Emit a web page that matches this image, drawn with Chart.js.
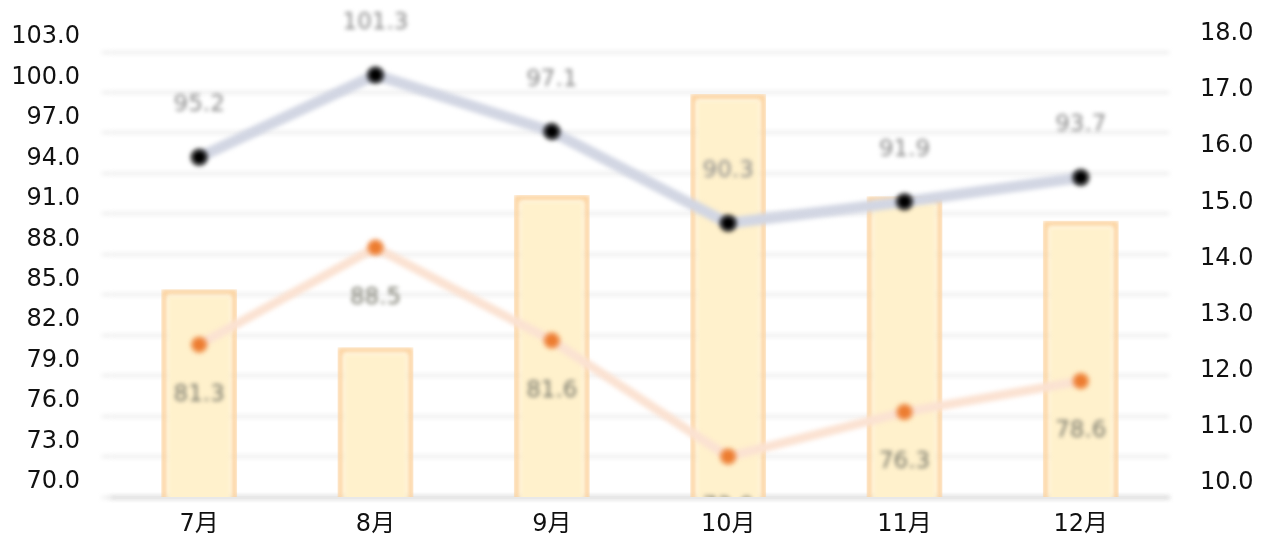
<!DOCTYPE html>
<html>
<head>
<meta charset="utf-8">
<script src="https://cdn.jsdelivr.net/npm/chart.js@4/dist/chart.umd.min.js"></script>
<style>
    html, body { margin: 0; padding: 0; background: #fff; }
    #wrap { width: 1267px; height: 540px; }
</style>
</head>
<body>
<div id="wrap"><canvas id="chart" width="1267" height="540"></canvas></div>
<script>
// Categories and series
const months = ['7月', '8月', '9月', '10月', '11月', '12月'];
const barValues = [13.7, 12.67, 15.38, 17.18, 15.36, 14.92];      // right axis
const grayLineValues = [95.2, 101.3, 97.1, 90.3, 91.9, 93.7];     // left axis
const orangeLineValues = [81.3, 88.5, 81.6, 73.0, 76.3, 78.6];    // left axis
const leftTicks = [70, 73, 76, 79, 82, 85, 88, 91, 94, 97, 100, 103];
const rightTicks = [10, 11, 12, 13, 14, 15, 16, 17, 18];

const FONT = '"DejaVu Sans", "Noto Sans CJK JP", sans-serif';

// Value labels next to line points
const pointLabels = {
    id: 'pointLabels',
    afterDatasetsDraw(chart) {
        const ctx = chart.ctx;
        ctx.save();
        ctx.beginPath();
        ctx.rect(0, 0, chart.width, chart.chartArea.bottom);
        ctx.clip();
        ctx.font = '23px ' + FONT;
        ctx.textAlign = 'center';
        ctx.textBaseline = 'middle';
        const specs = [
            { index: 1, dy: -52, color: '#888888' },
            { index: 2, dy: 50, color: '#77776a' }
        ];
        specs.forEach(spec => {
            const values = chart.data.datasets[spec.index].data;
            chart.getDatasetMeta(spec.index).data.forEach((pt, i) => {
                ctx.fillStyle = spec.color;
                ctx.fillText(values[i].toFixed(1), pt.x, pt.y + spec.dy);
            });
        });
        ctx.restore();
    }
};

// The plot body of the reference is soft; tick labels stay sharp (drawn later, z: 1)
const softFocus = {
    id: 'softFocus',
    beforeDraw(chart) {
        chart.ctx.save();
        chart.ctx.filter = 'blur(2.2px)';
    },
    afterDatasetsDraw(chart) {
        chart.ctx.restore();
    }
};

new Chart(document.getElementById('chart'), {
    data: {
        labels: months,
        datasets: [
            {
                type: 'bar',
                data: barValues,
                yAxisID: 'yR',
                backgroundColor: '#fff1cc',
                borderColor: '#fcd3a0',
                borderWidth: 6,
                barPercentage: 0.43,
                categoryPercentage: 1,
                order: 3
            },
            {
                type: 'line',
                data: grayLineValues,
                yAxisID: 'yL',
                borderColor: '#d2d6e3',
                borderWidth: 11,
                pointRadius: 7,
                pointBackgroundColor: '#000',
                pointBorderColor: 'rgba(0,0,0,0.4)',
                pointBorderWidth: 5,
                tension: 0,
                order: 1
            },
            {
                type: 'line',
                data: orangeLineValues,
                yAxisID: 'yL',
                borderColor: '#fbe2d2',
                borderWidth: 9,
                pointRadius: 7,
                pointBackgroundColor: '#ed7d31',
                pointBorderColor: 'rgba(237,125,49,0.3)',
                pointBorderWidth: 5,
                tension: 0,
                order: 2
            }
        ]
    },
    options: {
        responsive: false,
        animation: false,
        layout: { padding: { top: 48, left: 0, right: 0, bottom: 0 } },
        plugins: {
            legend: { display: false },
            tooltip: { enabled: false }
        },
        scales: {
            x: {
                offset: true,
                grid: { display: false },
                border: { color: '#d9d9d9', width: 3 },
                ticks: { z: 1, color: '#111', padding: 5, font: { family: FONT, size: 24 } },
                afterFit: s => { s.height = 43; }
            },
            yL: {
                position: 'left',
                min: 70,
                max: 103.3,
                afterBuildTicks: s => { s.ticks = leftTicks.map(v => ({ value: v })); },
                grid: { color: '#ececec', lineWidth: 3, tickLength: 9 },
                border: { display: false },
                ticks: {
                    z: 1,
                    color: '#111',
                    padding: 22,
                    labelOffset: -15,
                    font: { family: FONT, size: 24 },
                    callback: v => Number(v).toFixed(1)
                },
                afterFit: s => { s.width = 111; }
            },
            yR: {
                position: 'right',
                min: 10,
                max: 18,
                afterBuildTicks: s => { s.ticks = rightTicks.map(v => ({ value: v })); },
                grid: { drawOnChartArea: false, drawTicks: true, tickLength: 20, tickColor: 'rgba(0,0,0,0)' },
                border: { display: false },
                ticks: {
                    z: 1,
                    color: '#111',
                    padding: 11,
                    labelOffset: -14,
                    font: { family: FONT, size: 24 },
                    callback: v => Number(v).toFixed(1)
                },
                afterFit: s => { s.width = 98; }
            }
        }
    },
    plugins: [pointLabels, softFocus]
});
</script>
</body>
</html>
